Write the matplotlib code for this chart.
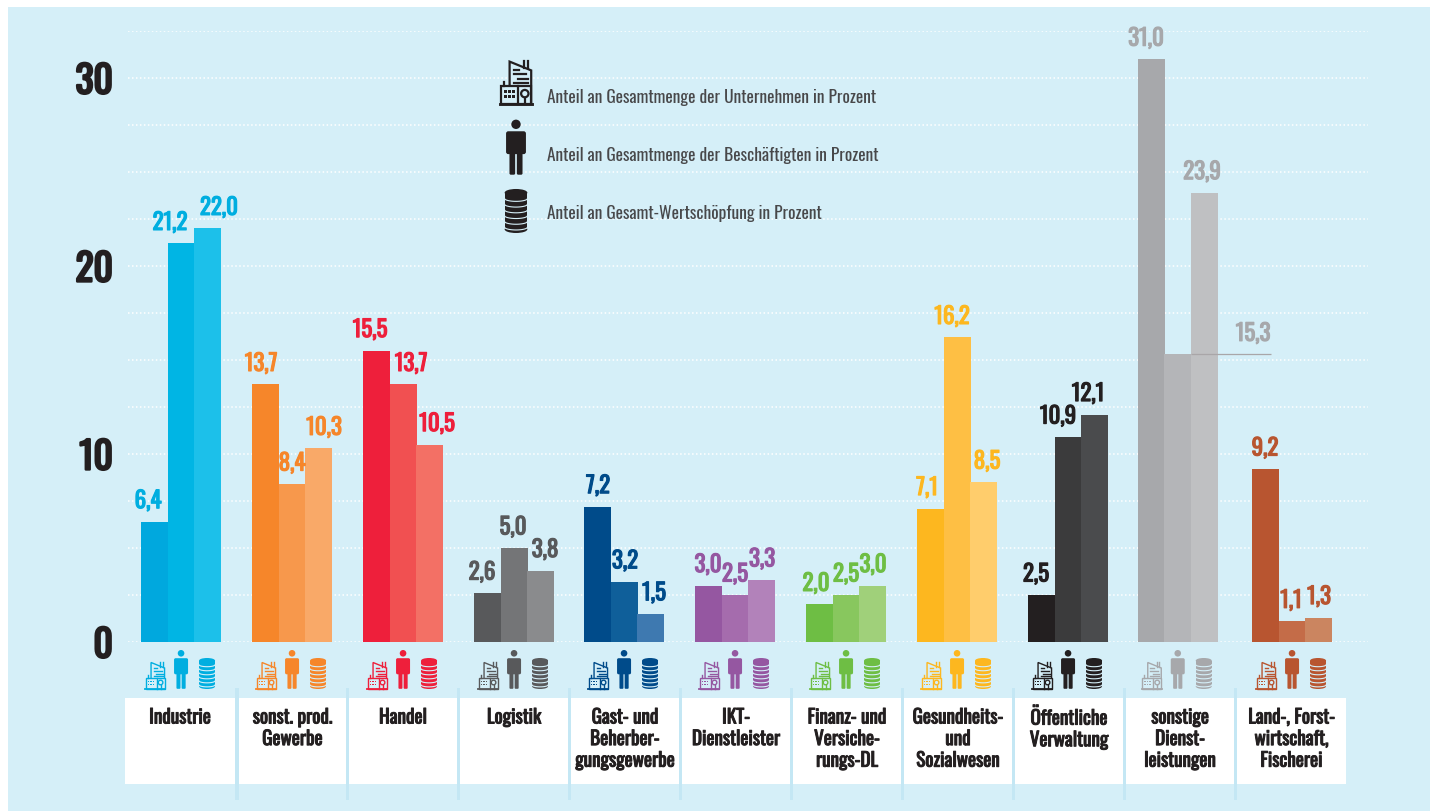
import numpy as np
import matplotlib
matplotlib.use("Agg")
import matplotlib.pyplot as plt
import matplotlib.patheffects as pe
from matplotlib.transforms import Affine2D
from matplotlib.patches import Rectangle, Circle, Polygon, FancyBboxPatch, Ellipse

categories = ["Industrie", "sonst. prod.\nGewerbe", "Handel", "Logistik",
              "Gast- und\nBeherber-\ngungsgewerbe", "IKT-\nDienstleister",
              "Finanz- und\nVersiche-\nrungs-DL", "Gesundheits-\nund\nSozialwesen",
              "Öffentliche\nVerwaltung", "sonstige\nDienst-\nleistungen",
              "Land-, Forst-\nwirtschaft,\nFischerei"]
unternehmen = [6.4, 13.7, 15.5, 2.6, 7.2, 3.0, 2.0, 7.1, 2.5, 31.0, 9.2]
beschaeftigte = [21.2, 8.4, 13.7, 5.0, 3.2, 2.5, 2.5, 16.2, 10.9, 15.3, 1.1]
wertschoepfung = [22.0, 10.3, 10.5, 3.8, 1.5, 3.3, 3.0, 8.5, 12.1, 23.9, 1.3]
legend_texts = ["Anteil an Gesamtmenge der Unternehmen in Prozent",
                "Anteil an Gesamtmenge der Beschäftigten in Prozent",
                "Anteil an Gesamt-Wertschöpfung in Prozent"]

palette = [["#00a8de", "#00b5e4", "#1cc0ea"], ["#f6862a", "#f7984c", "#f9a968"],
           ["#ee1f3b", "#f15051", "#f37065"], ["#58595b", "#747577", "#8a8b8d"],
           ["#004b8a", "#0f5f9a", "#3e79b0"], ["#9557a1", "#a56cad", "#b282ba"],
           ["#6ebe44", "#88c75e", "#a0d07a"], ["#fdb71f", "#febf44", "#ffcd6c"],
           ["#231f20", "#3b3b3c", "#4a4b4d"], ["#a7a8ab", "#b4b5b8", "#bfc0c2"],
           ["#b85530", "#c46c48", "#cb8560"]]
label_colors = ["#00aee0", "#f6862a", "#ee1f3b", "#58595b", "#004b8a", "#9557a1",
                "#6ebe44", "#fdb71f", "#231f20", "#a7a8ab", "#b85530"]

# layout (pixels)
W, H = 1435, 811
BG = "#d5eff8"
SEP = "#c4e7f4"
INK = "#231f20"
FONT = ["Oswald", "DejaVu Sans"]
group_left = [141, 252, 363, 474, 584, 695, 806, 917, 1028, 1137.7, 1252]
bar_w = 26.7
label_x = [[148, 170, 219], [261, 292, 324], [370, 411, 437], [482, 513, 545],
           [598, 625, 654], [708, 735, 762], [816, 846, 873], [927, 952, 987],
           [1036, 1058, 1088], [1146, 1253, 1202], [1265, 1291, 1319]]
box_left = [125, 239, 349, 460, 571, 682, 793, 904, 1015, 1126, 1237]
box_right = [235, 346, 457, 568, 679, 790, 901, 1012, 1123, 1234, 1346]

plt.rcParams["font.family"] = FONT


def heavy(color, w):
    return [pe.withStroke(linewidth=w, foreground=color)]


fig = plt.figure(figsize=(W / 100, H / 100), dpi=100, facecolor="white")
fig.patches.append(Rectangle((8 / W, 0), (1430 - 8) / W, (H - 7) / H,
                             transform=fig.transFigure, fc=BG, ec="none", zorder=-10))

TOP_V = 32.5
ax = fig.add_axes([128 / W, (H - 642) / H, (1368 - 128) / W, (642 - 31) / H])
ax.patch.set_alpha(0)
ax.set_xlim(128, 1368)
ax.set_ylim(0, TOP_V)
for s in ax.spines.values():
    s.set_visible(False)
ax.set_xticks([])
ax.set_yticks([0, 10, 20, 30])
ax.set_yticklabels(["0", "10", "20", "30"], fontsize=27, color=INK,
                   path_effects=heavy(INK, 1.7))
ax.tick_params(axis="y", length=0, pad=11)
for lab in ax.get_yticklabels():
    lab.set_transform(lab.get_transform() + Affine2D().translate(0, -0.5))
ax.hlines(np.arange(0, TOP_V + 0.1, 2.5), 128, 1368, colors="white",
          linestyles=(0, (1, 1.6)), linewidth=1.1, zorder=1)

series = [unternehmen, beschaeftigte, wertschoepfung]
for g in range(len(categories)):
    for s in range(3):
        v = series[s][g]
        x0 = group_left[g] + s * bar_w
        ax.bar(x0, v, width=bar_w + 0.3, align="edge", color=palette[g][s], zorder=2)
        ax.annotate(f"{v:.1f}".replace(".", ","), xy=(label_x[g][s], v), xytext=(0, 21 * 0.72),
                    textcoords="offset points", ha="center", va="center", fontsize=16.5,
                    color=label_colors[g], zorder=4, annotation_clip=False,
                    path_effects=heavy(label_colors[g], 0.85))
# leader for the 15,3 label
ax.hlines(beschaeftigte[9], group_left[9] + bar_w * 2, 1271, colors="#a9a6a8", linewidth=0.9, zorder=3)

ov = fig.add_axes([0, 0, 1, 1], zorder=5)
ov.patch.set_alpha(0)
ov.set_xlim(0, W)
ov.set_ylim(H, 0)
ov.axis("off")


def building(cx, bottom, k, c, lw=1.0):
    x0 = cx - 10 * k
    y0 = bottom - 27 * k
    P = lambda x, y: (x0 + x * k, y0 + y * k)
    ov.add_patch(Polygon([P(6, 26.8), P(6, 0.5), P(19.5, 6), P(19.5, 26.8)], closed=False,
                         fc=BG, ec=c, lw=lw))
    for xp in (15, 17.5):
        ov.plot(*zip(P(xp, 0), P(xp, 4.5)), color=c, lw=lw)
    for (a, b, y) in [(8.5, 12, 5.5), (8.5, 16.5, 8.5), (11, 17.5, 11.5), (8.5, 17.5, 14)]:
        ov.plot(*zip(P(a, y), P(b, y)), color=c, lw=lw)
    ov.add_patch(Rectangle(P(0.5, 15.5), 19 * k, 11.3 * k, fc=BG, ec=c, lw=lw))
    ov.plot(*zip(P(11.5, 15.5), P(11.5, 26.8)), color=c, lw=lw)
    ov.plot(*zip(P(0, 26.8), P(20, 26.8)), color=c, lw=lw * 1.3)
    ov.plot(*zip(P(2.5, 15.5), P(2.5, 13)), color=c, lw=lw)
    for xx in (3, 5.5, 8):
        for yy in (18.5, 21.5):
            ov.add_patch(Rectangle(P(xx - 0.4, yy), 1.6 * k, 1.6 * k, fc=c, ec="none"))
    ov.add_patch(Circle(P(15.5, 20.5), 2.3 * k, fc=BG, ec=c, lw=lw))
    ov.plot(*zip(P(15.5, 23), P(15.5, 26.8)), color=c, lw=lw)


def person(cx, bottom, k, c):
    y0 = bottom - 39 * k
    ov.add_patch(Circle((cx, y0 + 3.3 * k), 3.3 * k, fc=c, ec="none"))
    ov.add_patch(FancyBboxPatch((cx - 6.2 * k, y0 + 9 * k), 12.4 * k, 14.5 * k,
                                boxstyle=f"round,pad={0.8 * k},rounding_size={1.6 * k}",
                                fc=c, ec="none"))
    for a in (-4.6, 0.6):
        ov.add_patch(FancyBboxPatch((cx + a * k, y0 + 22 * k), 4.0 * k, 16.8 * k,
                                    boxstyle=f"round,pad=0,rounding_size={1.0 * k}",
                                    fc=c, ec="none"))


def coins(cx, bottom, k, c):
    hw, hh, eh = 8 * k, 31 * k, 2.6 * k
    top = bottom - hh
    ov.add_patch(Ellipse((cx, top + eh), 2 * hw, 2 * eh, fc=c, ec="none"))
    ov.add_patch(Ellipse((cx, bottom - eh), 2 * hw, 2 * eh, fc=c, ec="none"))
    ov.add_patch(Rectangle((cx - hw, top + eh), 2 * hw, hh - 2 * eh, fc=c, ec="none"))
    t = np.linspace(-1, 1, 30)
    for i in range(1, 7):
        yb = top + eh + i * (hh - 2 * eh) / 6.4
        ov.plot(cx + t * hw * 1.02, yb + eh * 0.8 * np.sqrt(1 - t ** 2), color=BG, lw=0.8, zorder=3)


for g, name in enumerate(categories):
    cx = group_left[g] + 1.5 * bar_w
    c = label_colors[g]
    building(cx - 26, 689, 1.0, c, lw=1.0)
    person(cx, 689, 1.0, c)
    coins(cx + 26, 689, 1.0, c)
    ov.add_patch(Rectangle((box_left[g], 698), box_right[g] - box_left[g], 86, fc="white", ec="none", zorder=1))
    ov.text((box_left[g] + box_right[g]) / 2, 708.5, name, ha="center", va="top", fontsize=13.8,
            color=INK, linespacing=1.24, zorder=2, path_effects=heavy(INK, 0.7))
    if g < len(categories) - 1:
        ov.add_patch(Rectangle(((box_right[g] + box_left[g + 1]) / 2 - 1.8, 688), 3.6, 112, fc=SEP, ec="none", zorder=2))

building(516, 104, 1.6, INK, lw=1.6)
person(516, 175, 1.42, INK)
coins(516, 233, 1.42, INK)
for y, t in zip([97, 155, 213], legend_texts):
    ov.text(547, y, t, ha="left", va="center", fontsize=12.5, fontweight=300, color="#48484a")

fig.savefig("out.png", dpi=100, facecolor="white")
